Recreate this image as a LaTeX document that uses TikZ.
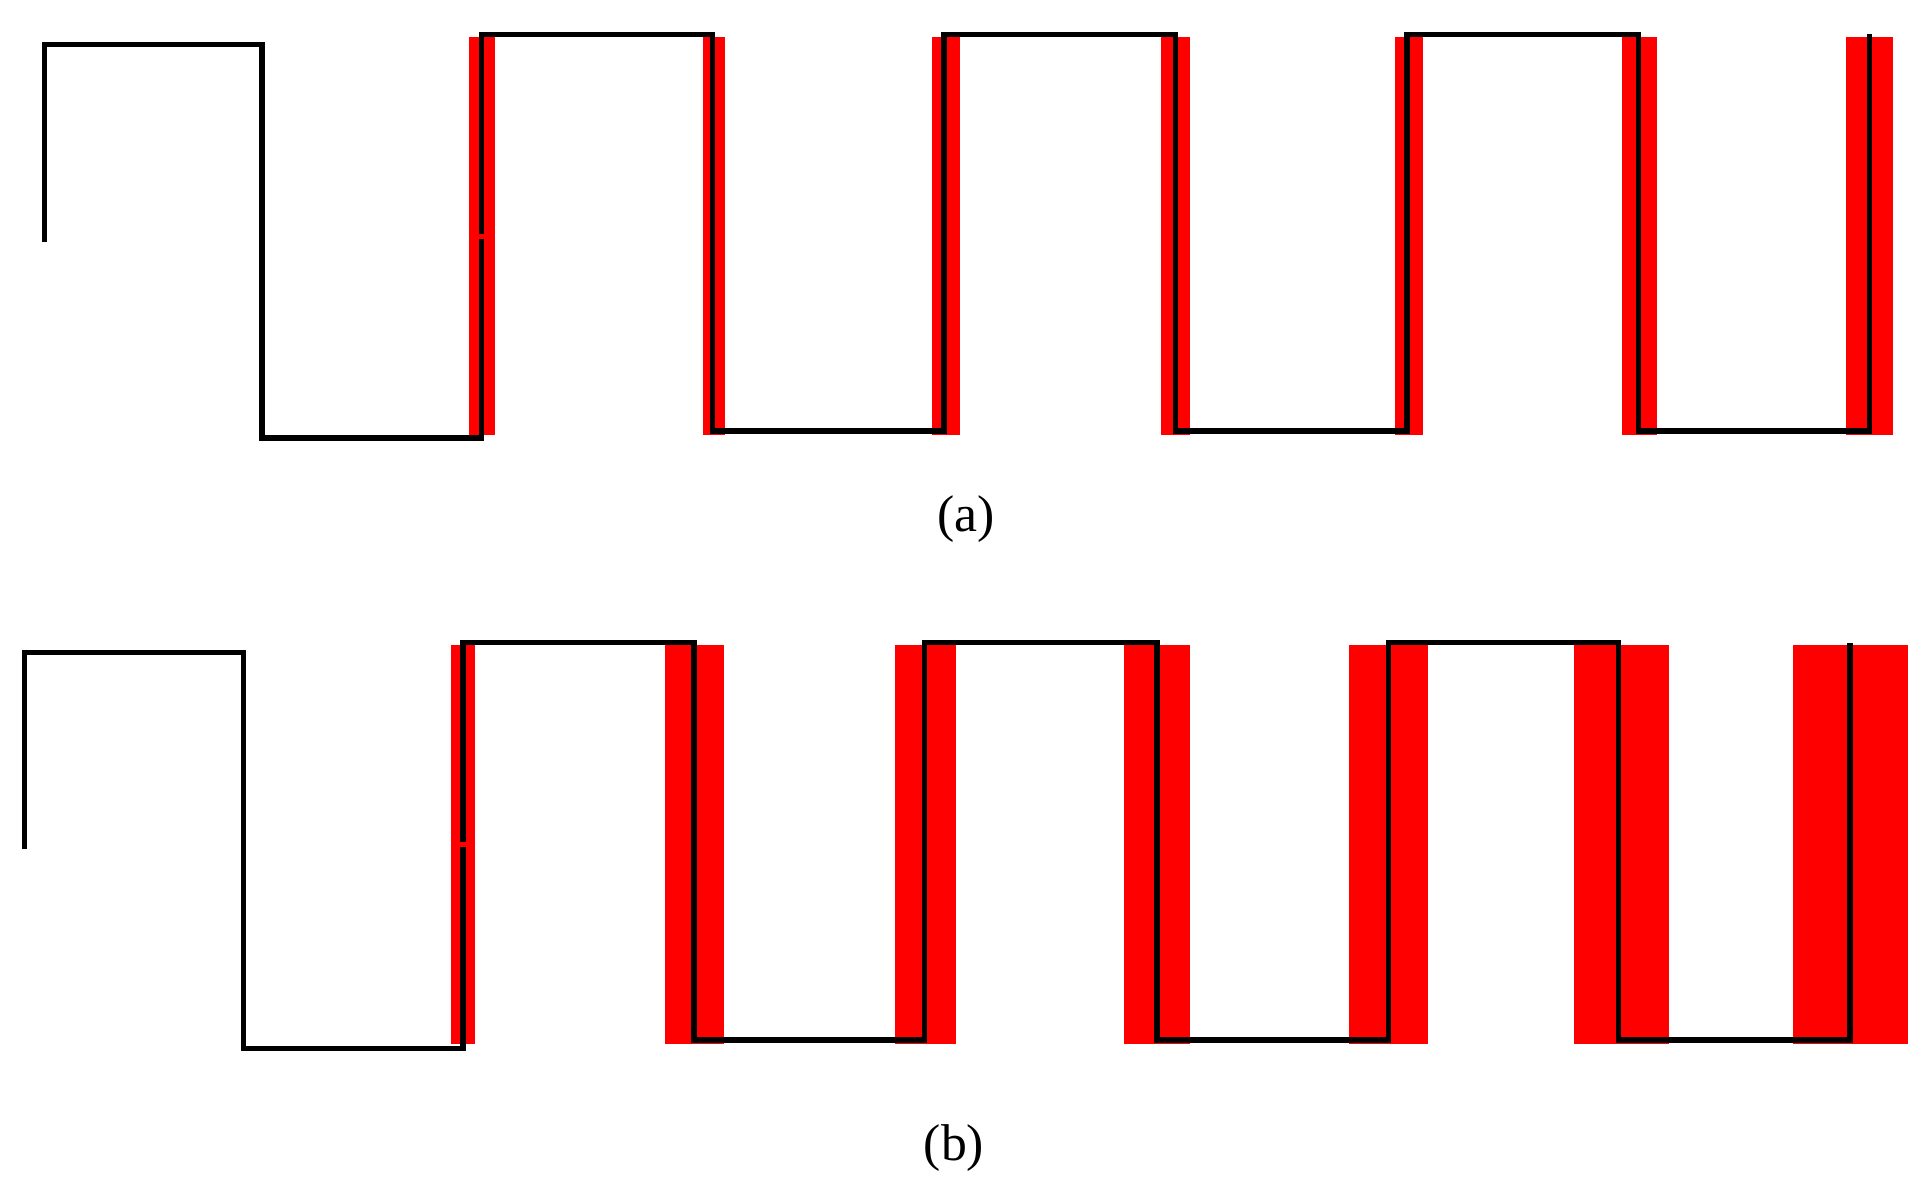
\documentclass[tikz,border=0pt]{standalone}
\usepackage{fontspec}
\setmainfont{Liberation Serif}
\begin{document}
\begin{tikzpicture}[x=1pt,y=-1pt,
  wave/.style={line width=4.5pt,black,line join=miter},
  bar/.style={fill=red,draw=none},
  lbl/.style={font=\fontsize{42}{42}\selectfont,inner sep=0pt}]
\useasboundingbox (0,0) rectangle (1568,974);
% panel (a) red bars
\foreach \a/\b in {381/402,571/589,757/780,943/967,1133/1156,1318/1346,1500/1538}
  \fill[red] (\a,30) rectangle (\b,353);
% panel (b) red bars
\foreach \a/\b in {366/386,540/588,727/777,913/967,1096/1160,1279/1356,1457/1550}
  \fill[red] (\a,524) rectangle (\b,848);
% waves
\draw[wave] (36,197) -- (36,36) -- (213,36) -- (213,356) -- (391,356) -- (391,194);
\draw[wave] (391,190) -- (391,28) -- (579,28) -- (579,350) -- (767,350) -- (767,28) -- (955,28) -- (955,350) -- (1143,350) -- (1143,28) -- (1331,28) -- (1331,350) -- (1519,350) -- (1519,28);
\draw[wave] (20,690) -- (20,530) -- (198,530) -- (198,852) -- (376,852) -- (376,688);
\draw[wave] (376,684) -- (376,522) -- (564,522) -- (564,845) -- (751,845) -- (751,522) -- (940,522) -- (940,845) -- (1128,845) -- (1128,522) -- (1315,522) -- (1315,845) -- (1503,845) -- (1503,522);
\node[lbl] (la) at (785,422) {(a)};
\node[lbl] (lb) at (775,933) {(b)};
\end{tikzpicture}
\end{document}
